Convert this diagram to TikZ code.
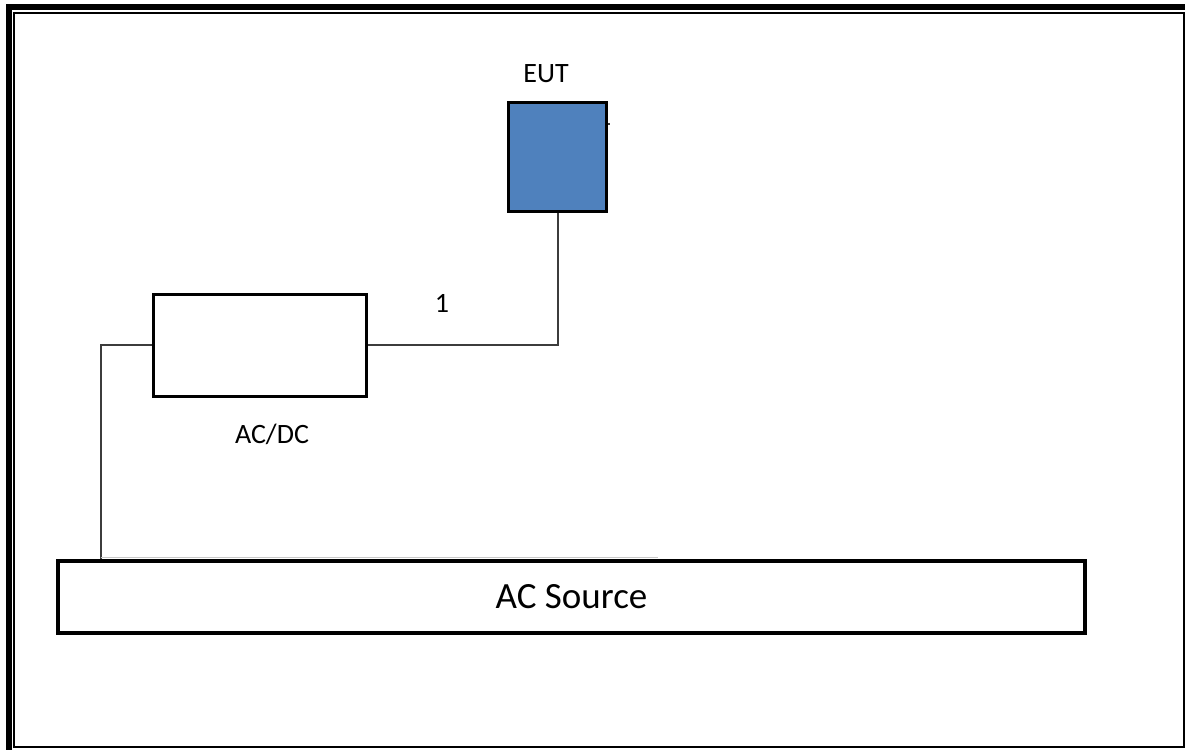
\documentclass[tikz,border=0pt]{standalone}
\usepackage{fontspec}
\setmainfont{Carlito}
\setsansfont{Carlito}
\definecolor{eutblue}{RGB}{79,129,189}
\definecolor{wire}{RGB}{60,60,60}
\definecolor{ghost}{RGB}{200,200,200}

\tikzset{
  unit/.style={draw=black, line width=3pt, inner sep=0pt},
  lbl/.style={font=\fontsize{28}{34}\selectfont, anchor=base, inner sep=0pt},
  wireline/.style={draw=wire, line width=2pt},
}

\begin{document}
\begin{tikzpicture}[font=\sffamily, x=1pt, y=-1pt]
\useasboundingbox (0,0) rectangle (1185,750);

% ---- frame ----
\fill (6,4) rectangle (1185,10);                     % top bar
\fill (6,4) rectangle (12,750);                      % left bar
\draw[line width=2pt] (13.5,13) rectangle (1184,746.5);

% ---- units ----
\node[unit, fill=eutblue, minimum width=98.5pt, minimum height=109.5pt] (eut) at (557.5,157) {};
\node[unit, minimum width=213pt, minimum height=102pt] (acdc) at (259.5,345) {};
\node[unit, line width=4pt, minimum width=1027pt, minimum height=72pt,
      font=\fontsize{37}{44}\selectfont] (acsrc) at (571.5,597) {AC Source};

% ---- labels ----
\node[lbl] (euttxt) at (546,82) {EUT};
\node[lbl] (cable1) at (442,312) {1};
\node[lbl] (acdctxt) at (272,443) {AC/DC};

% ---- wiring ----
\draw[wireline] (eut.south) |- (acdc.east);
\draw[wireline] (acdc.west) -- ++(-51,0) coordinate (bend) -- (bend |- acsrc.north);
\coordinate (ghostend) at (658,557.5);
\draw[draw=ghost, line width=1.5pt] (bend |- ghostend) -- (ghostend);
\draw[draw=wire, line width=1.5pt] (eut.east |- 0,124) -- ++(2,0);   % stub
\end{tikzpicture}
\end{document}
